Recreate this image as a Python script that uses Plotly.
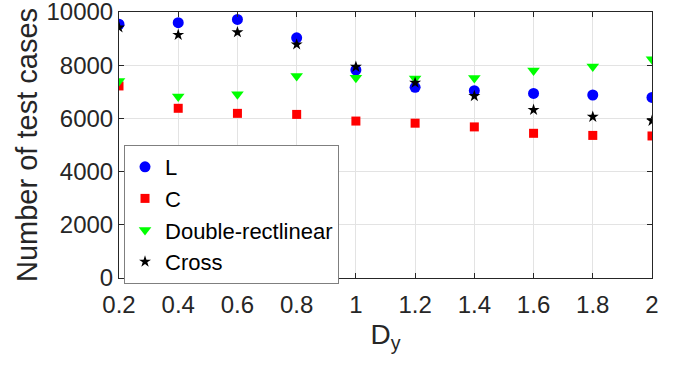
import plotly.graph_objects as go

dy = [0.2, 0.4, 0.6, 0.8, 1.0, 1.2, 1.4, 1.6, 1.8, 2.0]
L_vals = [9540, 9600, 9720, 9030, 7820, 7170, 7040, 6940, 6880, 6790]
C_vals = [7220, 6380, 6190, 6150, 5900, 5820, 5680, 5440, 5360, 5340]
DR_vals = [7410, 6820, 6910, 7590, 7530, 7500, 7520, 7800, 7950, 8220]
Cross_vals = [9420, 9140, 9240, 8780, 7940, 7340, 6840, 6320, 6060, 5910]
x_ticks = [0.2, 0.4, 0.6, 0.8, 1, 1.2, 1.4, 1.6, 1.8, 2]
x_ticklabels = ["0.2", "0.4", "0.6", "0.8", "1", "1.2", "1.4", "1.6", "1.8", "2"]
y_ticks = [0, 2000, 4000, 6000, 8000, 10000]
y_ticklabels = ["0", "2000", "4000", "6000", "8000", "10000"]

fig = go.Figure()
fig.add_trace(go.Scatter(x=dy, y=L_vals, mode="markers", name="L",
                         marker=dict(symbol="circle", size=11, color="#0000FF")))
fig.add_trace(go.Scatter(x=dy, y=C_vals, mode="markers", name="C",
                         marker=dict(symbol="square", size=9, color="#FF0000")))
fig.add_trace(go.Scatter(x=dy, y=DR_vals, mode="markers", name="Double-rectlinear",
                         marker=dict(symbol="triangle-down", size=11, color="#00FF00")))
fig.add_trace(go.Scatter(x=dy, y=Cross_vals, mode="markers", name="Cross",
                         marker=dict(symbol="star", size=9, color="#000000")))

font_family = "Liberation Sans, Arial, sans-serif"
fig.update_layout(
    width=680, height=373,
    margin=dict(l=119, r=28, t=12, b=95),
    paper_bgcolor="white", plot_bgcolor="white",
    font=dict(family=font_family, color="#262626"),
    showlegend=True,
    legend=dict(x=0.0094, y=0.5, xanchor="left", yanchor="top",
                bgcolor="white", bordercolor="#7f7f7f", borderwidth=1,
                font=dict(size=22, color="#000000", family=font_family),
                itemsizing="trace", tracegroupgap=0, itemwidth=30),
    xaxis=dict(range=[0.2, 2.0], tickvals=x_ticks, ticktext=x_ticklabels,
               automargin=False, ticklabeloverflow="allow", ticklabelstandoff=5,
               showgrid=True, gridcolor="#e3e3e3", gridwidth=1,
               showline=True, linecolor="#262626", linewidth=1, mirror="ticks",
               ticks="inside", ticklen=5, tickcolor="#262626",
               tickfont=dict(size=24, color="#262626"),
               title=dict(text="D<sub>y</sub>", font=dict(size=28, color="#262626"), standoff=7),
               zeroline=False),
    yaxis=dict(range=[0, 10000], tickvals=y_ticks, ticktext=y_ticklabels,
               automargin=False, ticklabeloverflow="allow",
               showgrid=True, gridcolor="#e3e3e3", gridwidth=1,
               showline=True, linecolor="#262626", linewidth=1, mirror="ticks",
               ticks="inside", ticklen=5, tickcolor="#262626",
               tickfont=dict(size=24, color="#262626"),
               title=dict(text="Number of test cases", font=dict(size=29, color="#262626"), standoff=0),
               zeroline=False),
)

fig.write_html("out.html", config={"displayModeBar": False},
               post_script="document.body.style.margin='0px';")
